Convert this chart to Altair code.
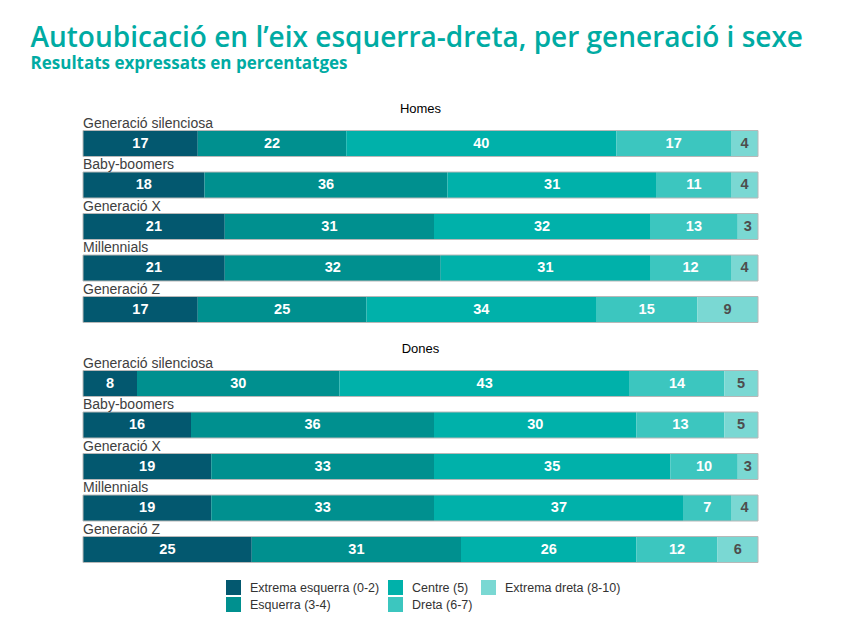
import altair as alt
import pandas as pd

generations = ["Generació silenciosa", "Baby-boomers", "Generació X", "Millennials", "Generació Z"]
categories = ["Extrema esquerra (0-2)", "Esquerra (3-4)", "Centre (5)", "Dreta (6-7)", "Extrema dreta (8-10)"]
colors = ["#03586f", "#00908f", "#00b1aa", "#3cc6bf", "#7ad8d3"]

homes = [
    [17, 22, 40, 17, 4],
    [18, 36, 31, 11, 4],
    [21, 31, 32, 13, 3],
    [21, 32, 31, 12, 4],
    [17, 25, 34, 15, 9],
]
dones = [
    [8, 30, 43, 14, 5],
    [16, 36, 30, 13, 5],
    [19, 33, 35, 10, 3],
    [19, 33, 37, 7, 4],
    [25, 31, 26, 12, 6],
]

TEAL = "#00aba3"
FONT = "Liberation Sans"


def make_df(values):
    rows = []
    for g, vals in zip(generations, values):
        start = 0
        for c, v in zip(categories, vals):
            rows.append({"gen": g, "cat": c, "val": v, "start": start, "end": start + v,
                         "mid": start + v / 2})
            start += v
    return pd.DataFrame(rows)


step = 41.5
pad_inner = 15.5 / step

yscale = alt.Scale(domain=generations, paddingInner=pad_inner, paddingOuter=pad_inner / 2, align=1)
xscale = alt.Scale(domain=[0, 100])

legend = alt.Legend(
    title=None, orient="none", legendX=143, legendY=465, columns=3,
    symbolType="square", symbolSize=225, symbolStrokeWidth=0,
    labelFont=FONT, labelFontSize=12.5, labelColor="#333333",
    columnPadding=8, rowPadding=2, labelOffset=9,
)


def panel(values, title):
    df = make_df(values)
    base = alt.Chart(df)
    color_enc = alt.Color(
        "cat:N",
        scale=alt.Scale(domain=categories, range=colors),
        legend=legend,
    )
    bars = base.mark_bar(size=26).encode(
        x=alt.X("start:Q", scale=xscale, axis=None),
        x2="end:Q",
        y=alt.Y("gen:N", scale=yscale, axis=None),
        color=color_enc,
    )
    outline_df = pd.DataFrame({"gen": generations, "zero": [0] * 5, "full": [100] * 5})
    outline = alt.Chart(outline_df).mark_bar(size=26, fill="transparent", stroke="#b8b8b8", strokeWidth=1).encode(
        x=alt.X("zero:Q", scale=xscale, axis=None),
        x2="full:Q",
        y=alt.Y("gen:N", scale=yscale, axis=None),
    )
    vals = base.mark_text(font=FONT, fontSize=14.5, fontWeight="bold", baseline="middle").encode(
        x=alt.X("mid:Q", scale=xscale, axis=None),
        y=alt.Y("gen:N", scale=yscale, axis=None),
        text="val:Q",
        color=alt.condition(alt.datum.cat == categories[4], alt.value("#4d4d4d"), alt.value("#ffffff")),
    )
    labels = alt.Chart(outline_df).mark_text(font=FONT, fontSize=14, align="left", baseline="middle",
                                               dy=-20, color="#404040").encode(
        x=alt.X("zero:Q", scale=xscale, axis=None),
        y=alt.Y("gen:N", scale=yscale, axis=None),
        text="gen:N",
    )
    return alt.layer(bars, outline, vals, labels).properties(
        width=675, height=5 * step,
        title=alt.TitleParams(title, font=FONT, fontSize=13, fontWeight="normal", color="#000000",
                              anchor="middle", offset=-1),
    )


chart = alt.vconcat(
    panel(homes, "Homes"),
    panel(dones, "Dones"),
    spacing=20,
).properties(
    title=alt.TitleParams(
        "Autoubicació en l’eix esquerra-dreta, per generació i sexe",
        subtitle="Resultats expressats en percentatges",
        font="Open Sans", fontSize=28, fontWeight=600, color=TEAL,
        subtitleFont="Open Sans", subtitleFontSize=17, subtitleFontWeight=700, subtitleColor=TEAL,
        subtitlePadding=3,
        anchor="start", dx=-52, offset=31,
    ),
    padding={"left": 22, "top": 17, "right": 10, "bottom": 10},
).configure_view(stroke=None)

chart.save("out.html", embed_options={"renderer": "svg", "actions": False})
